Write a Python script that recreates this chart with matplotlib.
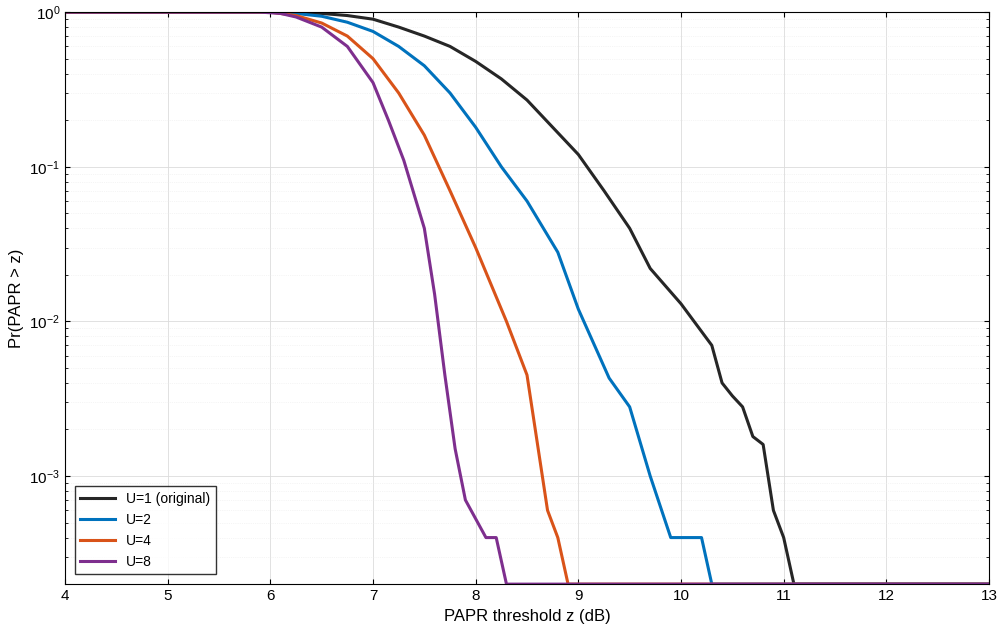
import matplotlib
matplotlib.use("Agg")
import matplotlib.pyplot as plt

plt.rcParams["font.family"] = ["Liberation Sans", "DejaVu Sans"]

FLOOR = 2e-4

x1 = [4, 6.0, 6.25, 6.5, 6.75, 7.0, 7.25, 7.5, 7.75, 8.0, 8.25, 8.5, 8.75, 9.0, 9.25, 9.5, 9.7, 10.0, 10.3, 10.4, 10.5, 10.6, 10.7, 10.8, 10.9, 11.0, 11.1, 13]
y1 = [1, 1, 0.995, 0.98, 0.95, 0.9, 0.8, 0.7, 0.6, 0.48, 0.37, 0.27, 0.18, 0.12, 0.07, 0.04, 0.022, 0.013, 0.007, 0.004, 0.0033, 0.0028, 0.0018, 0.0016, 6e-4, 4e-4, FLOOR, FLOOR]

x2 = [4, 6.0, 6.25, 6.5, 6.75, 7.0, 7.25, 7.5, 7.75, 8.0, 8.25, 8.5, 8.8, 9.0, 9.3, 9.5, 9.7, 9.9, 10.2, 10.3, 13]
y2 = [1, 1, 0.98, 0.94, 0.86, 0.75, 0.6, 0.45, 0.3, 0.18, 0.1, 0.06, 0.028, 0.012, 0.0043, 0.0028, 0.001, 4e-4, 4e-4, FLOOR, FLOOR]

x4 = [4, 6.0, 6.25, 6.5, 6.75, 7.0, 7.25, 7.5, 7.75, 8.0, 8.3, 8.5, 8.7, 8.8, 8.9, 13]
y4 = [1, 1, 0.95, 0.85, 0.7, 0.5, 0.3, 0.16, 0.07, 0.03, 0.01, 0.0045, 6e-4, 4e-4, FLOOR, FLOOR]

x8 = [4, 5.9, 6.1, 6.25, 6.5, 6.75, 7.0, 7.15, 7.3, 7.5, 7.6, 7.7, 7.8, 7.9, 8.1, 8.2, 8.3, 13]
y8 = [1, 1, 0.98, 0.93, 0.8, 0.6, 0.35, 0.2, 0.11, 0.04, 0.015, 0.0045, 0.0015, 7e-4, 4e-4, 4e-4, FLOOR, FLOOR]

labels = ["U=1 (original)", "U=2", "U=4", "U=8"]
colors = ["#262626", "#0072BD", "#D95319", "#7E2F8E"]

fig, ax = plt.subplots(figsize=(10, 6.37), dpi=100)
fig.subplots_adjust(left=0.065, right=0.989, top=0.981, bottom=0.083)
for xs, ys, lab, c in zip([x1, x2, x4, x8], [y1, y2, y4, y8], labels, colors):
    ax.semilogy(xs, ys, color=c, lw=2.2, label=lab)

ax.set_xlim(4, 13)
ax.set_ylim(FLOOR, 1)
ax.set_xticks(range(4, 14))
ax.grid(True, which="major", color="#dcdcdc", lw=0.6)
ax.grid(True, which="minor", color="#ececec", lw=0.5, ls=":")
ax.set_xlabel("PAPR threshold z (dB)", fontsize=12)
ax.set_ylabel("Pr(PAPR > z)", fontsize=12)
ax.tick_params(labelsize=11, direction="in", which="both", top=True, right=True)
ax.legend(loc="lower left", fancybox=False, edgecolor="black", fontsize=10,
          borderaxespad=0.7, handlelength=2.5)
fig.savefig("out.png")
